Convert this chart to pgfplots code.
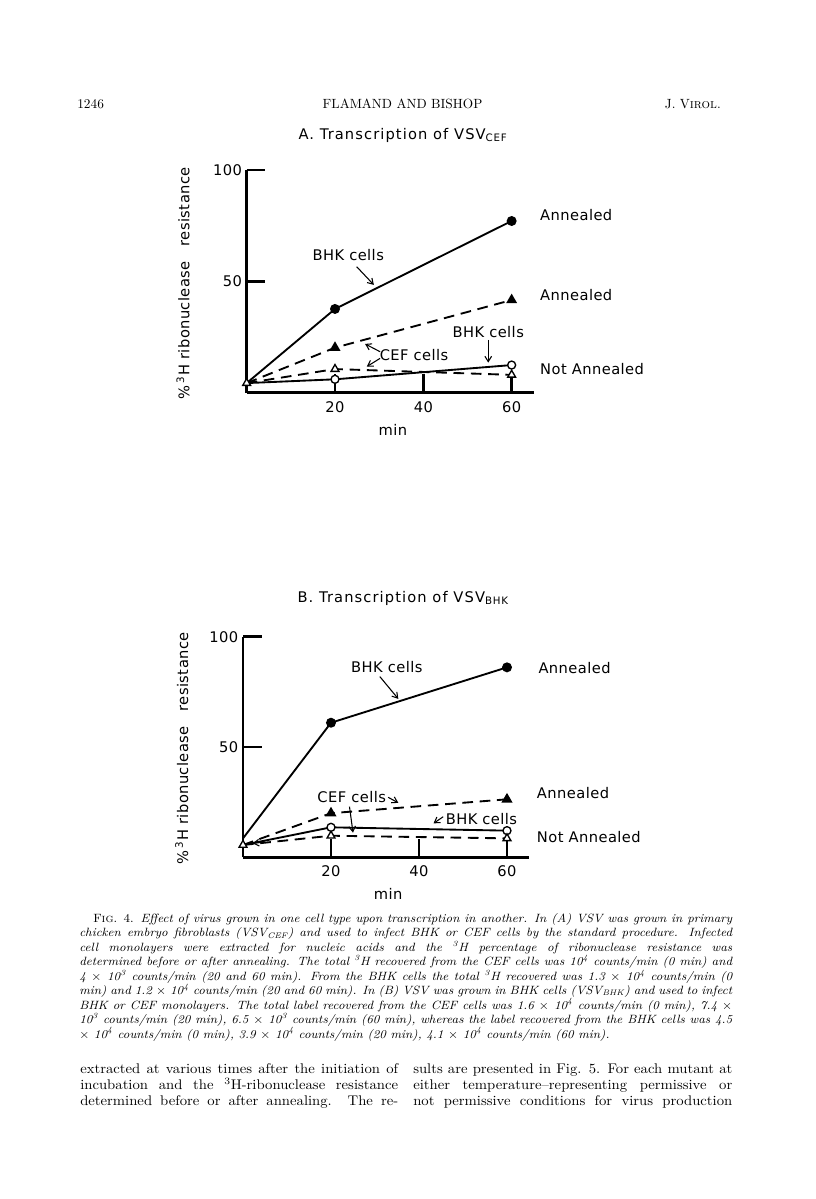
\documentclass[border=0pt]{standalone}
\usepackage{fontspec}
\usepackage{graphicx}
\usepackage{pgfplots}
\pgfplotsset{compat=1.18}
\usetikzlibrary{arrows.meta}
\newfontfamily\pf[LetterSpace=3]{DejaVu Sans}
\newfontfamily\pft[LetterSpace=7.5]{DejaVu Sans}
\newcommand\pfs{\pf\fontsize{11}{13}\selectfont}
\newcommand\pfts{\pft\fontsize{11}{13}\selectfont}
\newcommand\cl[1]{\scalebox{1.05}[1]{\makebox[466.4pt][s]{#1}}}
\newcommand\bl[2]{\scalebox{1.05}[1]{\makebox[#1][s]{#2}}}
\tikzset{arr/.style={-{Straight Barb[length=4pt,width=5pt]}, line width=0.8pt}}
\pgfplotsset{
  pagefig/.style={
    scale only axis, clip=false,
    xmin=0, xmax=65, ymin=0, ymax=100,
    axis x line=bottom, axis y line=left,
    axis line style={line width=2pt,-},
    xtick={20,40,60}, ytick={50,100},
    tick align=inside, major tick length=14pt,
    tick style={line width=1.8pt,black},
    /pgf/number format/assume math mode=true,
    ticklabel style={font=\pfs},
    xticklabel style={yshift=-3pt},
    every axis title/.style={anchor=center, font=\pfts},
    anchor=south west,
  },
  sol/.style={black, line width=1.4pt},
  das/.style={black, line width=1.4pt, dash pattern=on 8pt off 5pt},
  fc/.style={mark=*, mark size=3pt, mark options={solid, fill=black}},
  ft/.style={mark=triangle*, mark size=3.4pt, mark options={solid, fill=black}},
  oc/.style={mark=*, mark size=3pt, mark options={solid, fill=white, line width=1pt}},
  ot/.style={mark=triangle*, mark size=3.4pt, mark options={solid, fill=white, line width=1pt}},
}
\begin{document}
\begin{tikzpicture}
\path[use as bounding box] (0,0) rectangle (612pt,-899.25pt);
% running head
\node[anchor=base west, inner sep=0, font=\fontsize{10}{12}\selectfont] at (57.75pt,-81pt) {1246};
\node[anchor=base, inner sep=0, font=\fontsize{10}{12}\selectfont] at (301.9pt,-81pt) {FLAMAND AND BISHOP};
\node[anchor=base east, inner sep=0, font=\fontsize{10}{12}\selectfont] at (540.75pt,-81pt) {J. V\textsc{irol}.};

% ---------- A ----------
\begin{axis}[pagefig, at={(185.0pt,-294.5pt)}, width=215.3pt, height=167pt,
  title={A. Transcription of VSV\textsubscript{CEF}},
  title style={at={(axis cs:35.4,115.7)}},
  xlabel={min},
  every axis x label/.style={at={(axis cs:33.1,-16.7)}, anchor=center, font=\pfs},
  ylabel={\%\,\textsuperscript{3}H ribonuclease\quad resistance},
  every axis y label/.style={at={(axis cs:-14.4,49.1)}, rotate=90, anchor=center, font=\pfs},
]
\addplot[sol, fc, mark indices={2,3}] coordinates {(0,4.3) (20,37.6) (60,77.1)};
\addplot[das, ft, mark indices={2,3}] coordinates {(0,4.3) (20,20.2) (60,41.6)};
\addplot[sol, oc, mark indices={2,3}] coordinates {(0,4.3) (20,6.0) (60,12.4)};
\addplot[das, ot] coordinates {(0,4.3) (20,10.6) (60,8.0)};
\node[font=\pfs] at (axis cs:23.0,61.8) {BHK cells};
\draw[arr] (axis cs:24.9,56.6) -- (axis cs:28.8,48.4);
\node[font=\pfs] at (axis cs:37.9,16.9) {CEF cells};
\draw[arr] (axis cs:30.2,18.4) -- (axis cs:26.8,21.9);
\draw[arr] (axis cs:30.2,15.4) -- (axis cs:27.2,11.7);
\node[font=\pfs] at (axis cs:54.7,27.1) {BHK cells};
\draw[arr] (axis cs:54.7,23.7) -- (axis cs:54.7,13.5);
\node[font=\pfs, anchor=west, inner sep=0] at (axis cs:66.4,79.8) {Annealed};
\node[font=\pfs, anchor=west, inner sep=0] at (axis cs:66.4,43.9) {Annealed};
\node[font=\pfs, anchor=west, inner sep=0] at (axis cs:66.4,10.5) {Not Annealed};
\end{axis}

% ---------- B ----------
\begin{axis}[pagefig, at={(182.25pt,-643.0pt)}, width=214.5pt, height=165.5pt,
  title={B. Transcription of VSV\textsubscript{BHK}},
  title style={at={(axis cs:36.4,117.5)}},
  xlabel={min},
  every axis x label/.style={at={(axis cs:33.0,-16.7)}, anchor=center, font=\pfs},
  ylabel={\%\,\textsuperscript{3}H ribonuclease\quad resistance},
  every axis y label/.style={at={(axis cs:-13.9,49.4)}, rotate=90, anchor=center, font=\pfs},
]
\addplot[sol, fc, mark indices={2,3}] coordinates {(0,8.6) (20,61.0) (60,86.1)};
\addplot[das, ft, mark indices={2,3}] coordinates {(0,5.6) (20,20.0) (60,26.3)};
\addplot[sol, oc, mark indices={2,3}] coordinates {(0,5.6) (20,13.6) (60,12.1)};
\addplot[das, ot] coordinates {(0,5.6) (20,9.8) (60,8.6)};
\draw[arr] (axis cs:5,7.0) -- (axis cs:2.2,6.3);
\node[font=\pfs] at (axis cs:32.7,86.1) {BHK cells};
\draw[arr] (axis cs:31.1,81.9) -- (axis cs:35.3,71.8);
\node[font=\pfs] at (axis cs:24.7,27.5) {CEF cells};
\draw[arr] (axis cs:33.0,27.2) -- (axis cs:35.3,24.7);
\draw[arr] (axis cs:24.2,23.0) -- (axis cs:25.0,11.2);
\node[font=\pfs] at (axis cs:54.2,17.2) {BHK cells};
\draw[arr] (axis cs:45.5,18.4) -- (axis cs:43.3,15.4);
\node[font=\pfs, anchor=west, inner sep=0] at (axis cs:67.1,85.7) {Annealed};
\node[font=\pfs, anchor=west, inner sep=0] at (axis cs:66.75,29.0) {Annealed};
\node[font=\pfs, anchor=west, inner sep=0] at (axis cs:66.75,9.1) {Not Annealed};
\end{axis}

% caption
\begin{scope}[every node/.style={anchor=base west, inner sep=0, font=\fontsize{9}{11}\selectfont\itshape}]
\node at (59.25pt,-691.7pt) {\cl{\hspace*{10pt}{\upshape F\textsc{ig}. 4.} Effect of virus grown in one cell type upon transcription in another. In (A) VSV was grown in primary}};
\node at (59.25pt,-702.6pt) {\cl{chicken embryo fibroblasts (VSV$_{\mathit{CEF}}$) and used to infect BHK or CEF cells by the standard procedure. Infected}};
\node at (59.25pt,-713.4pt) {\cl{cell monolayers were extracted for nucleic acids and the \textsuperscript{3}H percentage of ribonuclease resistance was}};
\node at (59.25pt,-724.3pt) {\cl{determined before or after annealing. The total \textsuperscript{3}H recovered from the CEF cells was 10\textsuperscript{4} counts/min (0 min) and}};
\node at (59.25pt,-735.1pt) {\cl{4 $\times$ 10\textsuperscript{3} counts/min (20 and 60 min). From the BHK cells the total \textsuperscript{3}H recovered was 1.3 $\times$ 10\textsuperscript{4} counts/min (0}};
\node at (59.25pt,-745.9pt) {\cl{min) and 1.2 $\times$ 10\textsuperscript{4} counts/min (20 and 60 min). In (B) VSV was grown in BHK cells (VSV$_{\mathit{BHK}}$) and used to infect}};
\node at (59.25pt,-756.8pt) {\cl{BHK or CEF monolayers. The total label recovered from the CEF cells was 1.6 $\times$ 10\textsuperscript{4} counts/min (0 min), 7.4 $\times$}};
\node at (59.25pt,-767.6pt) {\cl{10\textsuperscript{3} counts/min (20 min), 6.5 $\times$ 10\textsuperscript{3} counts/min (60 min), whereas the label recovered from the BHK cells was 4.5}};
\node at (59.25pt,-778.5pt) {\scalebox{1.05}[1]{$\times$ 10\textsuperscript{4} counts/min (0 min), 3.9 $\times$ 10\textsuperscript{4} counts/min (20 min), 4.1 $\times$ 10\textsuperscript{4} counts/min (60 min).}};
\end{scope}

% body text
\begin{scope}[every node/.style={anchor=base west, inner sep=0, font=\fontsize{10.5}{12.5}\selectfont}]
\node at (60pt,-805.1pt) {\bl{227.1pt}{extracted at various times after the initiation of}};
\node at (60pt,-817.1pt) {\bl{227.1pt}{incubation and the \textsuperscript{3}H-ribonuclease resistance}};
\node at (60pt,-829.1pt) {\bl{227.1pt}{determined before or after annealing. The re-}};
\node at (309.75pt,-805.1pt) {\bl{227.9pt}{sults are presented in Fig. 5. For each mutant at}};
\node at (309.75pt,-817.1pt) {\bl{227.9pt}{either temperature--representing permissive or}};
\node at (309.75pt,-829.1pt) {\bl{227.9pt}{not permissive conditions for virus production}};
\end{scope}
\end{tikzpicture}
\end{document}
